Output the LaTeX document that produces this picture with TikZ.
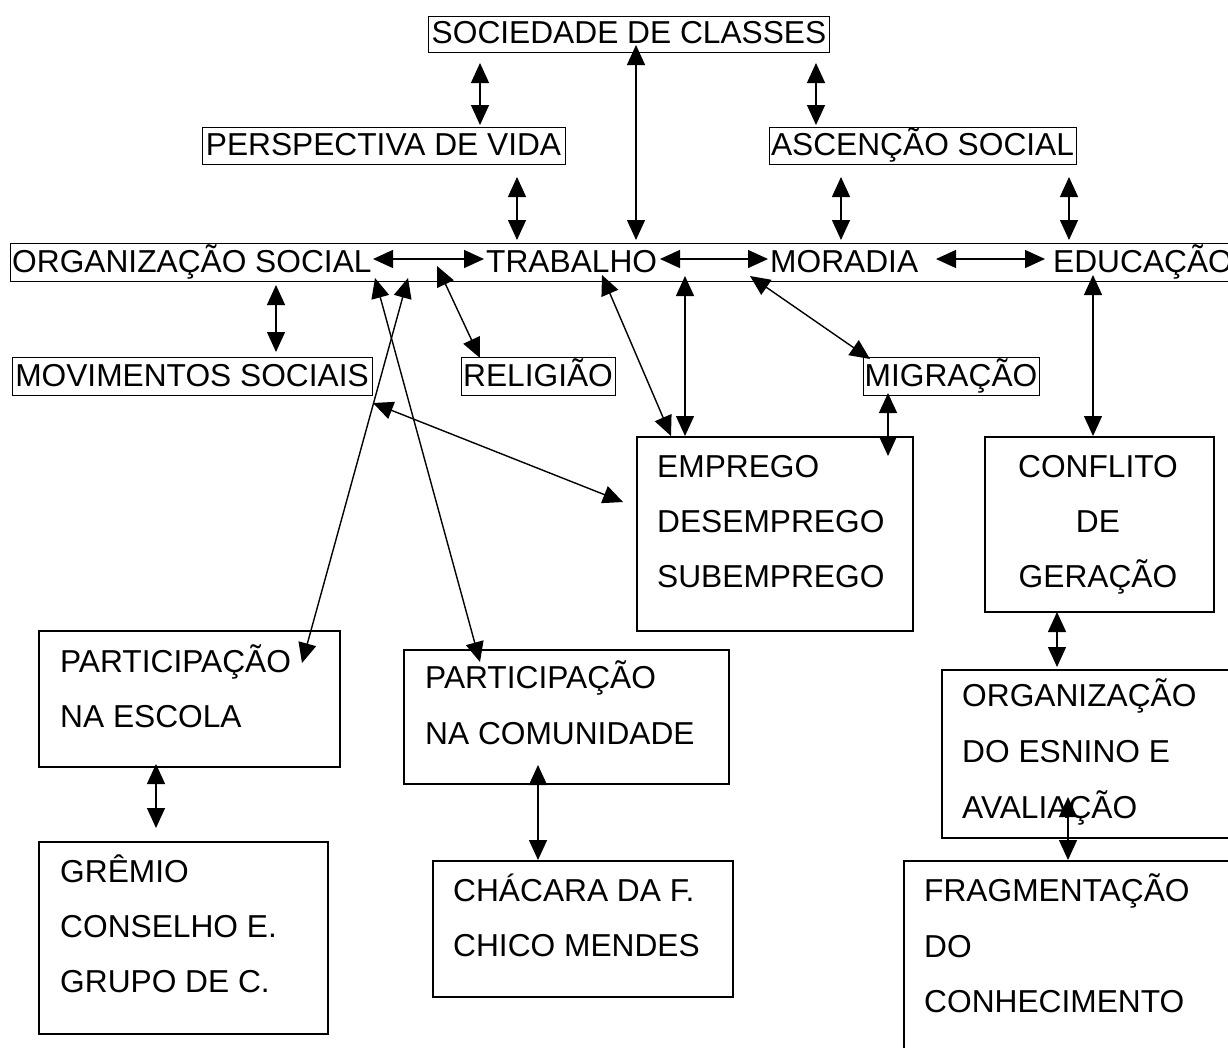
\documentclass[tikz,border=0pt]{standalone}
\usepackage{fontspec}
\setmainfont{Liberation Sans}
\usetikzlibrary{arrows.meta,calc}
\begin{document}
\begin{tikzpicture}[x=1pt,y=-1pt,
  tbox/.style={draw, line width=1.1pt, inner sep=0pt, anchor=north west},
  bbox/.style={draw, line width=1.6pt, inner sep=0pt, anchor=north west},
  lbl/.style={inner sep=0pt, font=\fontsize{31.7}{40}\selectfont},
  dbl/.style={{Triangle[length=20pt,width=18pt]}-{Triangle[length=20pt,width=18pt]}, line width=1.4pt}]
\useasboundingbox (0,0) rectangle (1228,1047);
\clip (0,0) rectangle (1228,1047);
\fill[white] (0,0) rectangle (1228,1047);

% boxes
\node[tbox, minimum width=401pt, minimum height=36pt] (soc) at (428,16) {};
\node[tbox, minimum width=363pt, minimum height=37pt] (persp) at (202,127) {};
\node[tbox, minimum width=307pt, minimum height=37pt] (asc) at (769,127) {};
\node[tbox, minimum width=1240pt, minimum height=38pt] (row) at (10,243) {};
\node[tbox, minimum width=360pt, minimum height=38pt] (mov) at (12,357) {};
\node[tbox, minimum width=154pt, minimum height=38pt] (rel) at (461,357) {};
\node[tbox, minimum width=176pt, minimum height=38pt] (mig) at (863,357) {};
\node[bbox, minimum width=276pt, minimum height=194pt] (emp) at (636,436) {};
\node[bbox, minimum width=229pt, minimum height=175pt] (conf) at (984,436) {};
\node[bbox, minimum width=301pt, minimum height=136pt] (pesc) at (38,630) {};
\node[bbox, minimum width=289pt, minimum height=192pt] (grem) at (38,841) {};
\node[bbox, minimum width=325pt, minimum height=134pt] (pcom) at (403,649) {};
\node[bbox, minimum width=300pt, minimum height=136pt] (chac) at (432,860) {};
\node[bbox, minimum width=300pt, minimum height=168pt] (orgens) at (941,669) {};
\node[bbox, minimum width=340pt, minimum height=200pt] (frag) at (903,860) {};

% texts
\node[lbl, anchor=base] (socT) at (629,43.5) {SOCIEDADE DE CLASSES};
\node[lbl, anchor=base] (perspT) at (383.5,155.5) {PERSPECTIVA DE VIDA};
\node[lbl, anchor=base] (ascT) at (922.5,155.5) {ASCENÇÃO SOCIAL};
\node[lbl, anchor=base west] (orgT) at (12,272.5) {ORGANIZAÇÃO SOCIAL};
\node[lbl, anchor=base west] (trabT) at (486,272.5) {TRABALHO};
\node[lbl, anchor=base west] (morT) at (770,272.5) {MORADIA};
\node[lbl, anchor=base west] (eduT) at (1053,272.5) {EDUCAÇÃO};
\node[lbl, anchor=base] (movT) at (192,386.5) {MOVIMENTOS SOCIAIS};
\node[lbl, anchor=base] (relT) at (538,386.5) {RELIGIÃO};
\node[lbl, anchor=base] (migT) at (951,386.5) {MIGRAÇÃO};

\node[lbl, anchor=base west] (empA) at (657,477) {EMPREGO};
\node[lbl, anchor=base west] (empB) at (657,532) {DESEMPREGO};
\node[lbl, anchor=base west] (empC) at (657,587) {SUBEMPREGO};

\node[lbl, anchor=base] (confA) at (1098,477) {CONFLITO};
\node[lbl, anchor=base] (confB) at (1098,532) {DE};
\node[lbl, anchor=base] (confC) at (1098,587) {GERAÇÃO};

\node[lbl, anchor=base west] (pescA) at (60,672) {PARTICIPAÇÃO};
\node[lbl, anchor=base west] (pescB) at (60,727) {NA ESCOLA};

\node[lbl, anchor=base west] (gremA) at (60,882) {GRÊMIO};
\node[lbl, anchor=base west] (gremB) at (60,937) {CONSELHO E.};
\node[lbl, anchor=base west] (gremC) at (60,992) {GRUPO DE C.};

\node[lbl, anchor=base west] (pcomA) at (425,688) {PARTICIPAÇÃO};
\node[lbl, anchor=base west] (pcomB) at (425,744) {NA COMUNIDADE};

\node[lbl, anchor=base west] (chacA) at (453,901) {CHÁCARA DA F.};
\node[lbl, anchor=base west] (chacB) at (453,956) {CHICO MENDES};

\node[lbl, anchor=base west] (orgA) at (962,706) {ORGANIZAÇÃO};
\node[lbl, anchor=base west] (orgB) at (962,762) {DO ESNINO E};
\node[lbl, anchor=base west] (orgC) at (962,818) {AVALIAÇÃO};

\node[lbl, anchor=base west] (fragA) at (924,901) {FRAGMENTAÇÃO};
\node[lbl, anchor=base west] (fragB) at (924,957) {DO};
\node[lbl, anchor=base west] (fragC) at (924,1012) {CONHECIMENTO};

% connectors
\draw[dbl] ($(soc.north west)+(52,47)$) -- ($(persp.north west)+(278,-2)$);
\draw[dbl] ($(soc.north west)+(208,29)$) -- ($(row.north west)+(626,-3)$);
\draw[dbl] ($(soc.north west)+(388,47)$) -- ($(asc.north west)+(47,-2)$);
\draw[dbl] ($(persp.north west)+(315,50)$) -- ($(row.north west)+(507,-3)$);
\draw[dbl] ($(asc.north west)+(72,50)$) -- ($(row.north west)+(831,-3)$);
\draw[dbl] ($(asc.north west)+(300,50)$) -- ($(row.north west)+(1059,-3)$);
\draw[dbl] ($(row.north west)+(363,16)$) -- ($(row.north west)+(474,16)$);
\draw[dbl] ($(row.north west)+(650,16)$) -- ($(row.north west)+(758,16)$);
\draw[dbl] ($(row.north west)+(926,16)$) -- ($(row.north west)+(1035,16)$);
\draw[dbl] ($(row.north west)+(266,42)$) -- ($(mov.north west)+(264,-5)$);
\draw[dbl] ($(row.north west)+(365,35)$) -- ($(pcom.north west)+(77,13)$);
\draw[dbl] ($(row.north west)+(398,35)$) -- ($(pesc.north west)+(264,33)$);
\draw[dbl] ($(row.north west)+(427,23)$) -- ($(rel.north west)+(19,1)$);
\draw[dbl] ($(row.north west)+(592,32)$) -- ($(emp.north west)+(35,0)$);
\draw[dbl] ($(row.north west)+(675,33)$) -- ($(emp.north west)+(49,0)$);
\draw[dbl] ($(row.north west)+(740,33)$) -- ($(mig.north west)+(7,2)$);
\draw[dbl] ($(mig.north west)+(25,36)$) -- ($(emp.north west)+(252,20)$);
\draw[dbl] ($(row.north west)+(1083,32)$) -- ($(conf.north west)+(109,0)$);
\draw[dbl] ($(mov.north west)+(361,46)$) -- ($(emp.north west)+(-13,66)$);
\draw[dbl] ($(pesc.north west)+(118,134)$) -- ($(grem.north west)+(118,-13)$);
\draw[dbl] ($(pcom.north west)+(135,116)$) -- ($(chac.north west)+(106,0)$);
\draw[dbl] ($(conf.north west)+(73,176)$) -- ($(orgens.north west)+(116,-2)$);
\draw[dbl] ($(orgens.north west)+(127,128)$) -- ($(frag.north west)+(165,0)$);
\end{tikzpicture}
\end{document}
